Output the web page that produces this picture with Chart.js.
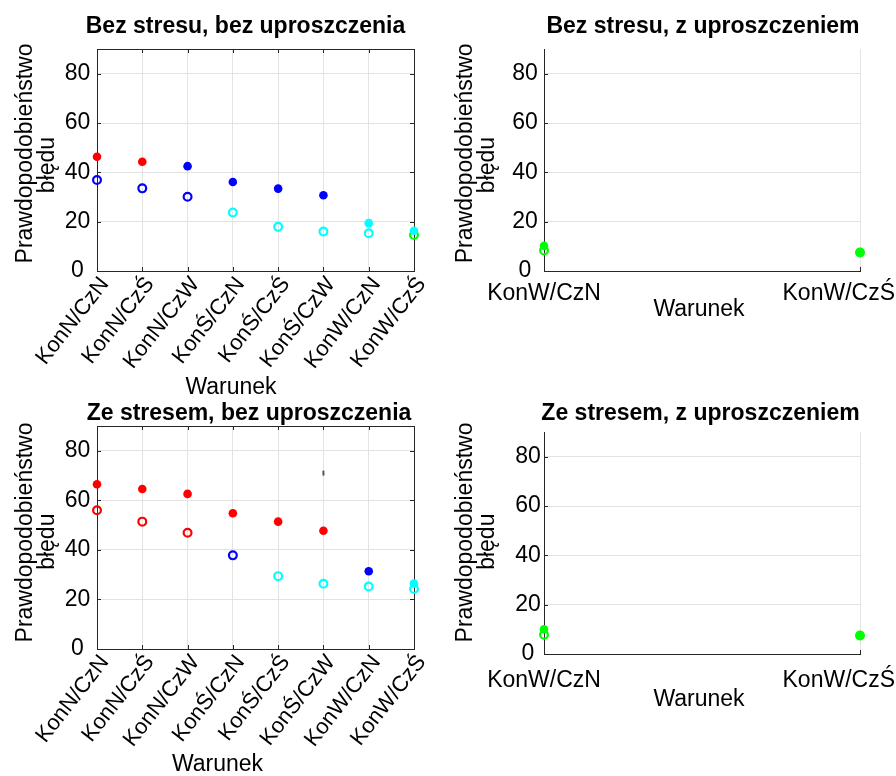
<!DOCTYPE html>
<html lang="pl">
<head>
<meta charset="utf-8">
<title>Prawdopodobieństwo błędu</title>
<script src="https://cdn.jsdelivr.net/npm/chart.js@4.4.1/dist/chart.umd.min.js"></script>
<style>
  html, body { margin: 0; padding: 0; background: #fff; }
  #figure { position: relative; width: 896px; height: 776px; overflow: hidden; background: #fff; }
  #figure canvas { position: absolute; left: 0; top: 0; }
</style>
</head>
<body>
<div id="figure">
  <canvas id="pNoStressFull" width="896" height="776"></canvas>
  <canvas id="pNoStressSimp" width="896" height="776"></canvas>
  <canvas id="pStressFull" width="896" height="776"></canvas>
  <canvas id="pStressSimp" width="896" height="776"></canvas>
</div>
<script>
// Conditions (x categories)
const conditionsAll = ['KonN/CzN', 'KonN/CzŚ', 'KonN/CzW', 'KonŚ/CzN', 'KonŚ/CzŚ', 'KonŚ/CzW', 'KonW/CzN', 'KonW/CzŚ'];
const conditionsSimplified = ['KonW/CzN', 'KonW/CzŚ'];
// Y axis ticks (error probability, %)
const probTicks = [0, 20, 40, 60, 80];
const yTitleLines = ['Prawdopodobieństwo', 'błędu'];

// Bez stresu, bez uproszczenia
const noStressFullFilled = [46.3, 44.3, 42.5, 36.1, 33.4, 30.7, 19.4, 16.3];
const noStressFullOpen = [36.9, 33.5, 30.1, 23.7, 17.9, 16.0, 15.3, 14.6];
// Bez stresu, z uproszczeniem
const noStressSimpFilled = [10.2, 7.7];
const noStressSimpOpen = [8.3, 7.5];
// Ze stresem, bez uproszczenia
const stressFullFilled = [66.5, 64.6, 62.6, 54.8, 51.4, 47.7, 31.4, 26.4];
const stressFullOpen = [56.0, 51.4, 46.9, 37.8, 29.4, 26.3, 25.2, 24.2];
const stressFullSpan = [70.0, 72.0];          // short vertical span at KonŚ/CzW
// Ze stresem, z uproszczeniem
const stressSimpFilled = [10.0, 7.6];
const stressSimpOpen = [7.8, 7.5];

const FONT = '"Liberation Sans", Arial, Helvetica, sans-serif';
const gridCol = '#e3e3e3';
const axisCol = '#262626';
Chart.defaults.font.family = FONT;
Chart.defaults.color = '#000';

// Marker colour depends on the probability level
function levelColour(v) {
  if (v >= 43) return '#ff0000';
  if (v >= 30) return '#0000ff';
  if (v >= 15) return '#00ffff';
  return '#00ff00';
}

function markerSets(filled, open) {
  return [
    {
      label: 'wypełnione', data: filled, showLine: false, clip: false,
      pointStyle: 'circle', pointRadius: 4.3, pointBorderWidth: 0,
      pointBackgroundColor: filled.map(levelColour), pointBorderColor: filled.map(levelColour)
    },
    {
      label: 'puste', data: open, showLine: false, clip: false,
      pointStyle: 'circle', pointRadius: 3.9, pointBorderWidth: 2.2,
      pointBackgroundColor: 'rgba(0,0,0,0)', pointBorderColor: open.map(levelColour)
    }
  ];
}

// Frame, inward ticks, panel title and axis labels; horizontal tick labels kept inside the figure
const panelDecor = {
  id: 'panelDecor',
  afterUpdate(chart) {
    const sc = chart.scales.x;
    if (sc.labelRotation !== 0) return;
    const ctx = chart.ctx;
    sc.getLabelItems().forEach(it => {
      ctx.save();
      ctx.font = it.font.string;
      const w = ctx.measureText(it.label).width;
      ctx.restore();
      const tr = it.options.translation;
      tr[0] = Math.min(Math.max(tr[0], w / 2), chart.width - w / 2 - 1);
    });
  },
  beforeDatasetsDraw(chart, args, o) {
    const { ctx, chartArea: a, scales } = chart;
    const t = 4;
    ctx.save();
    ctx.strokeStyle = axisCol;
    ctx.lineWidth = 1;
    ctx.beginPath();
    scales.x.ticks.forEach((tk, i) => {
      const px = Math.round(scales.x.getPixelForTick(i)) + 0.5;
      ctx.moveTo(px, a.bottom); ctx.lineTo(px, a.bottom - t);
      if (o.box) { ctx.moveTo(px, a.top); ctx.lineTo(px, a.top + t); }
    });
    scales.y.ticks.forEach(tk => {
      const py = Math.round(scales.y.getPixelForValue(tk.value)) + 0.5;
      ctx.moveTo(a.left, py); ctx.lineTo(a.left + t, py);
      if (o.box) { ctx.moveTo(a.right, py); ctx.lineTo(a.right - t, py); }
    });
    if (o.box) {
      ctx.moveTo(a.left, Math.round(a.top) + 0.5); ctx.lineTo(a.right + 1, Math.round(a.top) + 0.5);
      ctx.moveTo(Math.round(a.right) + 0.5, a.top); ctx.lineTo(Math.round(a.right) + 0.5, a.bottom);
    }
    ctx.stroke();
    ctx.restore();
  },
  afterDraw(chart, args, o) {
    const { ctx } = chart;
    ctx.save();
    ctx.fillStyle = '#000';
    ctx.textAlign = 'center';
    ctx.textBaseline = 'alphabetic';
    ctx.font = 'bold 23px ' + FONT;
    ctx.fillText(o.title, o.titleX, o.titleY);
    ctx.font = '23px ' + FONT;
    ctx.fillText(o.xTitle, o.xTitleX, o.xTitleY);
    // rotated y-axis label, one line at a time
    yTitleLines.forEach((line, i) => {
      ctx.save();
      ctx.translate(o.yTitleX[i], o.yTitleY[i]);
      ctx.rotate(-Math.PI / 2);
      ctx.fillText(line, 0, 0);
      ctx.restore();
    });
    ctx.restore();
  }
};

function yAxis(width, tickPad) {
  return {
    min: 0, max: 90,
    afterBuildTicks: s => { s.ticks = probTicks.map(v => ({ value: v })); },
    ticks: { padding: tickPad, crossAlign: 'center', color: '#000', font: { size: 23 } },
    grid: { color: gridCol, drawTicks: false, lineWidth: 1 },
    border: { display: true, color: axisCol, width: 1 },
    title: { display: false },
    afterFit: s => { s.width = width; s.paddingTop = 0; s.paddingBottom = 0; }
  };
}

function xAxis(height, rotation, pad, labelOffset, fontSize) {
  return {
    type: 'category', offset: false,
    ticks: {
      autoSkip: false, minRotation: rotation, maxRotation: rotation,
      padding: pad, labelOffset: labelOffset, color: '#000', font: { size: fontSize }
    },
    grid: { color: gridCol, drawTicks: false, offset: false },
    border: { display: true, color: axisCol, width: 1 },
    afterFit: s => { s.height = height; s.paddingLeft = 0; s.paddingRight = 0; }
  };
}

function makePanel(id, p) {
  return new Chart(document.getElementById(id), {
    type: 'line',
    data: { labels: p.labels, datasets: p.datasets },
    options: {
      responsive: false, animation: false, events: [],
      layout: { padding: p.padding },
      plugins: { legend: { display: false }, tooltip: { enabled: false }, panelDecor: p.decor },
      scales: { x: p.x, y: p.y }
    },
    plugins: [panelDecor]
  });
}

makePanel('pNoStressFull', {
  labels: conditionsAll,
  datasets: markerSets(noStressFullFilled, noStressFullOpen),
  padding: { left: 0, top: 49, right: 482, bottom: 388 },
  x: xAxis(117, 52, 1.1, 7.7, 22),
  y: yAxis(97, 6.7),
  decor: {
    box: true, title: 'Bez stresu, bez uproszczenia', titleX: 245.5, titleY: 33,
    xTitle: 'Warunek', xTitleX: 231, xTitleY: 393.5,
    yTitleX: [31.7, 53.7], yTitleY: [153.5, 165]
  }
});

makePanel('pNoStressSimp', {
  labels: conditionsSimplified,
  datasets: markerSets(noStressSimpFilled, noStressSimpOpen),
  padding: { left: 440, top: 49, right: 36, bottom: 445 },
  x: xAxis(60, 0, 9.2, 0, 23),
  y: yAxis(104, 6.2),
  decor: {
    box: false, title: 'Bez stresu, z uproszczeniem', titleX: 703, titleY: 33,
    xTitle: 'Warunek', xTitleX: 699, xTitleY: 316,
    yTitleX: [471.7, 493.7], yTitleY: [153.3, 165]
  }
});

const stressFullSets = markerSets(stressFullFilled, stressFullOpen);
stressFullSets.push({
  label: 'zakres', type: 'line', showLine: true, clip: false,
  data: stressFullSpan.map(v => ({ x: conditionsAll[5], y: v })),
  borderColor: '#555555', borderWidth: 2, pointRadius: 0
});
makePanel('pStressFull', {
  labels: conditionsAll,
  datasets: stressFullSets,
  padding: { left: 0, top: 426, right: 482, bottom: 7 },
  x: xAxis(120, 52, 1.1, 7.7, 22),
  y: yAxis(97, 6.7),
  decor: {
    box: true, title: 'Ze stresem, bez uproszczenia', titleX: 249, titleY: 420,
    xTitle: 'Warunek', xTitleX: 217.5, xTitleY: 771,
    yTitleX: [31.7, 53.7], yTitleY: [532.5, 541.7]
  }
});

makePanel('pStressSimp', {
  labels: conditionsSimplified,
  datasets: markerSets(stressSimpFilled, stressSimpOpen),
  padding: { left: 440, top: 432, right: 36, bottom: 42 },
  x: xAxis(80, 0, 13.2, 0, 23),
  y: yAxis(104, 3.2),
  decor: {
    box: false, title: 'Ze stresem, z uproszczeniem', titleX: 700.5, titleY: 420,
    xTitle: 'Warunek', xTitleX: 699, xTitleY: 706,
    yTitleX: [471.7, 493.7], yTitleY: [532.5, 541.7]
  }
});
</script>
</body>
</html>
